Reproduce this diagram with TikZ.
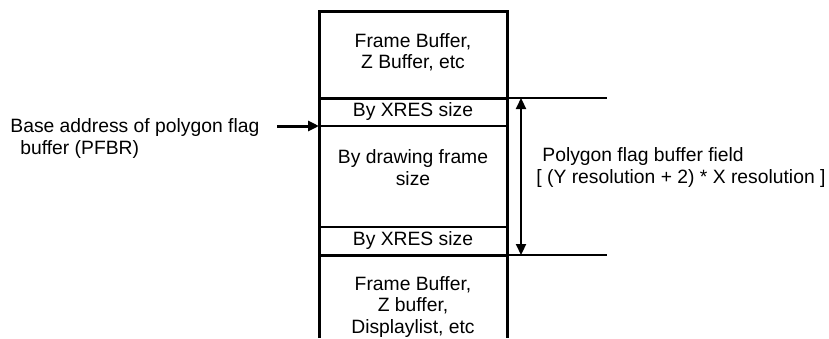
\documentclass[tikz,border=0pt]{standalone}
\usepackage{fontspec}
\setmainfont{Liberation Sans}
\usetikzlibrary{arrows.meta}
\tikzset{memtext/.style={align=center, inner sep=0pt, font=\fontsize{9.65}{10.6}\selectfont},
         sidetext/.style={align=left, inner sep=0pt, anchor=west, font=\fontsize{9.65}{10.6}\selectfont},
         wall/.style={line width=1.5pt},
         divider/.style={line width=0.8pt},
         marker/.style={line width=0.75pt},
         pointer/.style={line width=1.5pt, -{Triangle[length=5.5pt, width=5pt]}},
         span/.style={line width=1.1pt, {Triangle[length=5.5pt, width=5pt]}-{Triangle[length=5.5pt, width=5pt]}},
        }
\begin{document}
\begin{tikzpicture}[x=0.5pt, y=-0.5pt]
        \useasboundingbox (0,0) rectangle (829,338);
        \coordinate (tl) at (319,11);
        \coordinate (tr) at (507,11);
        \coordinate (bl) at (319,338);
        \coordinate (br) at (507,338);
        \coordinate (pfbr) at (319,126);
        \coordinate (pfbrstart) at (277,126);
        \coordinate (fieldtop) at (521,98);
        \coordinate (fieldbot) at (521,255);

        \node[memtext](fbtop)at(413,52.5){Frame Buffer,\\Z Buffer, etc};
        \node[memtext](xrestop)at(413,112){By XRES size};
        \node[memtext](drawframe)at(413,167.5){By drawing frame\\size};
        \node[memtext](xresbot)at(413,241){By XRES size};
        \node[memtext](fbbot)at(413,307){Frame Buffer,\\Z buffer,\\Displaylist, etc};
        \node[sidetext](base)at(10,138.5){Base address of polygon flag\\\hspace*{5pt}buffer (PFBR)};
        \node[sidetext](field)at(536,167.5){\hspace*{3pt}Polygon flag buffer field\\{[} (Y resolution + 2) * X resolution ]};

        \draw[wall](bl)--(tl)--(tr)--(br);
        \draw[wall](319,98)--(507,98);
        \draw[wall](319,255)--(507,255);
        \draw[divider](319,126)--(507,126);
        \draw[divider](319,227)--(507,227);
        \draw[marker](507,98)--(607,98);
        \draw[marker](507,255)--(607,255);
        \draw[pointer](pfbrstart)--(pfbr);
        \draw[span](fieldtop)--(fieldbot);
    \end{tikzpicture}
\end{document}
